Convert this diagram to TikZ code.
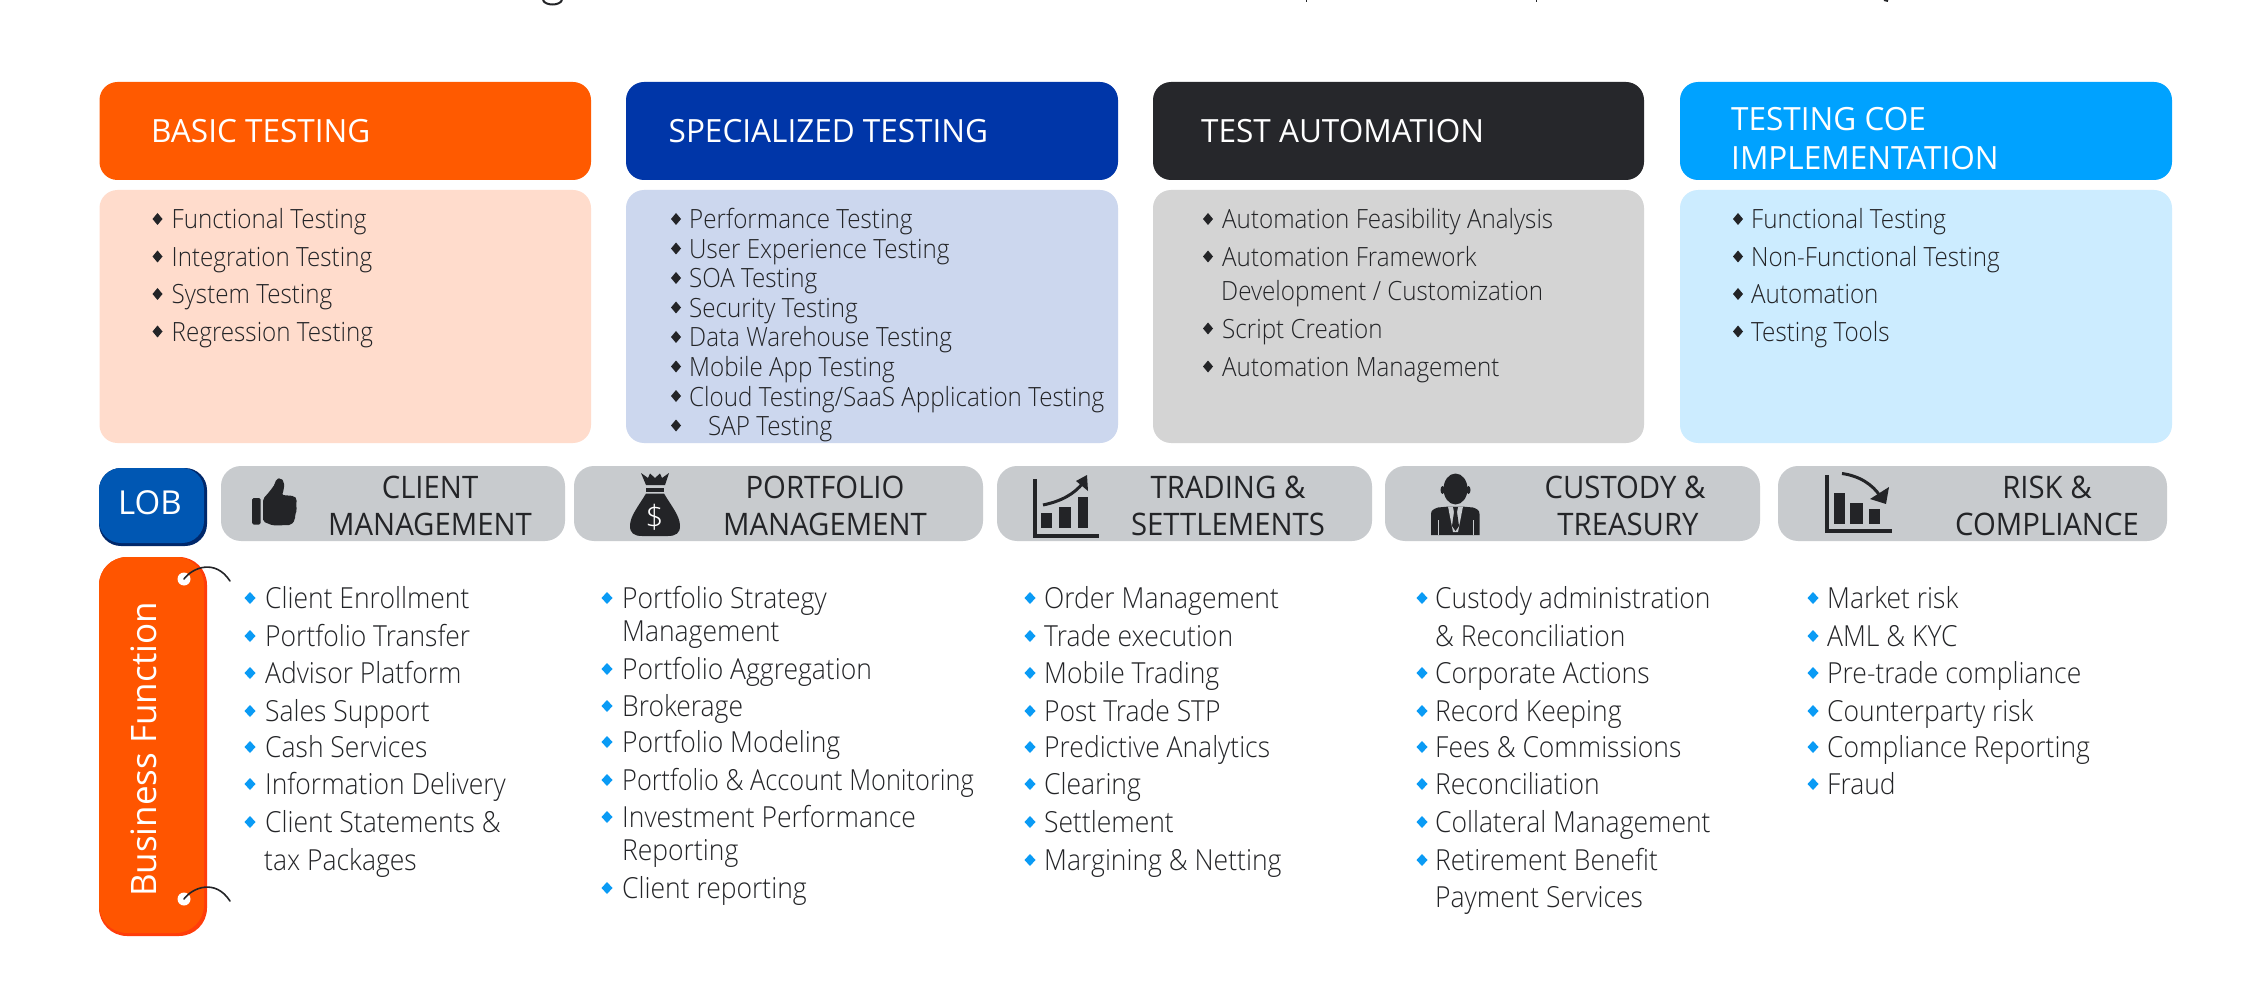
\documentclass[tikz,border=0pt]{standalone}
\usepackage{fontspec}
\setmainfont{Open Sans}[UprightFont=* Light]
\newfontfamily\lightnarrow{Open Sans}[UprightFont=* Light,FakeStretch=0.913]
\newfontfamily\regfont{Open Sans}
\newfontfamily\headfont{Open Sans}[FakeStretch=0.985]
\newfontfamily\regnarrow{Open Sans}[FakeStretch=0.945]
\definecolor{cOrange}{HTML}{FF5A00}
\definecolor{cBlue}{HTML}{0036A8}
\definecolor{cDark}{HTML}{26272B}
\definecolor{cCyan}{HTML}{00A2FF}
\definecolor{bOrange}{HTML}{FFDCCC}
\definecolor{bBlue}{HTML}{CCD7EE}
\definecolor{bDark}{HTML}{D4D4D4}
\definecolor{bCyan}{HTML}{CCECFF}
\definecolor{cGrey}{HTML}{C8CBCE}
\definecolor{cLob}{HTML}{0057B3}
\definecolor{cLobS}{HTML}{00286B}
\definecolor{cBf}{HTML}{FF5500}
\definecolor{cBfS}{HTML}{FF3D0A}
\definecolor{cInk}{HTML}{232427}
\definecolor{cDot}{HTML}{0A9BF5}
\tikzset{
  headbox/.style={rounded corners=18pt},
  headtxt/.style={text=white,font=\headfont\fontsize{32}{32}\selectfont,anchor=base west,inner sep=0pt,yshift=-12.5pt},
  bodytxt/.style={text=cInk,font=\lightnarrow\fontsize{26.5}{26.5}\selectfont,anchor=base west,inner sep=0pt,yshift=-10pt},
  listtxt/.style={text=cInk,font=\lightnarrow\fontsize{29}{29}\selectfont,anchor=base west,inner sep=0pt,yshift=-10pt},
  lobtxt/.style={text=cInk,font=\regnarrow\fontsize{31}{31}\selectfont,anchor=base,inner sep=0pt,yshift=-11pt},
  icon/.style={fill=cInk,draw=none},
  hookline/.style={draw=cInk,line width=1.6pt,line cap=round}
}
% small diamonds
\newcommand{\dk}[2]{\fill[cInk] (#1-5,#2) -- (#1,#2-6) -- (#1+5,#2) -- (#1,#2+6) -- cycle;}
\newcommand{\bl}[2]{\fill[cDot] (#1-5.5,#2) -- (#1,#2-6) -- (#1+5.5,#2) -- (#1,#2+6) -- cycle;}
% bullet list items: name, bullet x, text x, y, text
\newcommand{\bit}[5]{\dk{#2}{#4}\node[bodytxt] (#1) at (#3,#4) {#5};}
\newcommand{\bcont}[4]{\node[bodytxt] (#1) at (#2,#3) {#4};}
\newcommand{\lit}[5]{\bl{#2}{#4}\node[listtxt] (#1) at (#3,#4) {#5};}
\newcommand{\lcont}[4]{\node[listtxt] (#1) at (#2,#3) {#4};}
\begin{document}
\begin{tikzpicture}[x=1pt,y=-1pt]
\useasboundingbox (0,0) rectangle (2260,984);
\fill[white] (0,0) rectangle (2260,984);
% clipped remnants at the top edge
\draw[cInk,line width=2pt] (543,0) .. controls (545,6) and (560,6) .. (562,0);
\draw[cInk,line width=1pt] (1306,0) -- (1306,2);
\draw[cInk,line width=1pt] (1536,0) -- (1536,2);
\draw[cInk,line width=2pt] (1884,0) -- (1888,1);
% headers
\fill[cOrange,headbox] (99.5,82) rectangle (591,180);
\fill[cBlue,headbox] (626,82) rectangle (1118,180);
\fill[cDark,headbox] (1153,82) rectangle (1644,180);
\fill[cCyan,headbox] (1680,82) rectangle (2172,180);
\fill[bOrange,headbox] (99.5,190) rectangle (591,443);
\fill[bBlue,headbox] (626,190) rectangle (1118,443);
\fill[bDark,headbox] (1153,190) rectangle (1644,443);
\fill[bCyan,headbox] (1680,190) rectangle (2172,443);
\node[headtxt] (h1) at (151,130) {BASIC TESTING};
\node[headtxt] (h2) at (668.5,130) {SPECIALIZED TESTING};
\node[headtxt] (h3) at (1201,130) {TEST AUTOMATION};
\node[headtxt] (h4a) at (1731,118) {TESTING COE};
\node[headtxt] (h4b) at (1731,157) {IMPLEMENTATION};
% bodies
\bit{a1}{157.5}{171.5}{219}{Functional Testing}
\bit{a2}{157.5}{171.5}{256.5}{Integration Testing}
\bit{a3}{157.5}{171.5}{294}{System Testing}
\bit{a4}{157.5}{171.5}{331.5}{Regression Testing}
\bit{b1}{676}{689}{219}{Performance Testing}
\bit{b2}{676}{689}{248.5}{User Experience Testing}
\bit{b3}{676}{689}{278}{SOA Testing}
\bit{b4}{676}{689}{307.5}{Security Testing}
\bit{b5}{676}{689}{337}{Data Warehouse Testing}
\bit{b6}{676}{689}{366.5}{Mobile App Testing}
\bit{b7}{676}{689}{396}{Cloud Testing/SaaS Application Testing}
\bit{b8}{676}{708}{425.5}{SAP Testing}
\bit{c1}{1208}{1222}{219}{Automation Feasibility Analysis}
\bit{c2}{1208}{1222}{256.5}{Automation Framework}
\bcont{c2b}{1221}{290.5}{Development / Customization}
\bit{c3}{1208}{1222}{328.5}{Script Creation}
\bit{c4}{1208}{1222}{366.5}{Automation Management}
\bit{d1}{1738}{1751}{219}{Functional Testing}
\bit{d2}{1738}{1751}{256.5}{Non-Functional Testing}
\bit{d3}{1738}{1751}{294}{Automation}
\bit{d4}{1738}{1751}{331.5}{Testing Tools}
% LOB row
\fill[cLobS,rounded corners=22pt] (99,468) rectangle (207,546);
\fill[cLob,rounded corners=22pt] (99,468) rectangle (204,543);
\node[text=white,font=\regfont\fontsize{33}{33}\selectfont,inner sep=0pt] (lob) at (150,503) {LOB};
\fill[cGrey,rounded corners=20pt] (221,466) rectangle (565,541);
\fill[cGrey,rounded corners=20pt] (574,466) rectangle (983,541);
\fill[cGrey,rounded corners=20pt] (997,466) rectangle (1372,541);
\fill[cGrey,rounded corners=20pt] (1385,466) rectangle (1760,541);
\fill[cGrey,rounded corners=20pt] (1778,466) rectangle (2167,541);
\node[lobtxt] (l1a) at (430,487) {CLIENT};
\node[lobtxt] (l1b) at (430,524) {MANAGEMENT};
\node[lobtxt] (l2a) at (825,487) {PORTFOLIO};
\node[lobtxt] (l2b) at (825,524) {MANAGEMENT};
\node[lobtxt] (l3a) at (1228,487) {TRADING \&};
\node[lobtxt] (l3b) at (1228,524) {SETTLEMENTS};
\node[lobtxt] (l4a) at (1625,487) {CUSTODY \&};
\node[lobtxt] (l4b) at (1628,524) {TREASURY};
\node[lobtxt] (l5a) at (2047,487) {RISK \&};
\node[lobtxt] (l5b) at (2047,524) {COMPLIANCE};
% thumb icon
\fill[icon,rounded corners=1.5pt] (252,498) rectangle (260.5,524.5);
\fill[icon,rounded corners=2pt] (263,499) -- (270,491) -- (275,484) -- (276,479) -- (281,478) -- (284,482) -- (284,489) -- (282,495) -- (294,496) -- (297,499) -- (296,505) -- (297,510) -- (295,515) -- (295,520) -- (291,525) -- (273,525.5) -- (263,521.5) -- cycle;
% money bag icon
\fill[icon] (641,473) -- (648,478) -- (650,473.5) -- (655,478) -- (660,473.5) -- (662,478) -- (669,473) -- (665,485) -- (646,485) -- cycle;
\fill[icon] (646,487.5) rectangle (664,491.5);
\fill[icon] (646,493.5) -- (664,493.5) .. controls (672,507) and (680,516) .. (680,526) .. controls (680,533) and (676,536) .. (668,536) -- (642,536) .. controls (634,536) and (630,533) .. (630,526) .. controls (630,516) and (638,507) .. (646,493.5) -- cycle;
\node[text=white,font=\fontsize{32}{32}\selectfont,inner sep=0pt] (dollar) at (654.5,517) {\$};
% rising chart icon
\fill[icon] (1033,479) rectangle (1037,538);
\fill[icon] (1033,533.5) rectangle (1099,538);
\fill[icon] (1041,513) rectangle (1052,528);
\fill[icon] (1059,507) rectangle (1071,528);
\fill[icon] (1078,497) rectangle (1088,528);
\draw[cInk,line width=3pt] (1043,505) .. controls (1062,501) and (1074,494) .. (1083,483);
\fill[icon] (1087,475) -- (1088,491) -- (1076,481) -- cycle;
% person icon
\fill[icon] (1455.5,489) ellipse (12 and 15.5);
\fill[icon] (1442.5,490) ellipse (2 and 4);
\fill[icon] (1468.5,490) ellipse (2 and 4);
\fill[icon] (1431,535) -- (1431,514) .. controls (1431,510) and (1434,509) .. (1438,507.5) -- (1449,506.5) -- (1462,506.5) -- (1473,507.5) .. controls (1477,509) and (1479.5,510) .. (1479.5,514) -- (1479.5,535) -- cycle;
\fill[cGrey] (1448,506.5) -- (1463,506.5) -- (1458,532) -- (1453,532) -- cycle;
\fill[icon] (1453,507) -- (1458,507) -- (1457,512) -- (1459,526) -- (1455.5,531) -- (1452,526) -- (1454,512) -- cycle;
\draw[cGrey,line width=.8pt] (1438,520) -- (1438,535) (1473,520) -- (1473,535);
% falling chart icon
\fill[icon] (1825,475) rectangle (1829,533);
\fill[icon] (1825,529) rectangle (1892,533);
\fill[icon] (1834,493) rectangle (1845,524);
\fill[icon] (1850,503) rectangle (1863,524);
\fill[icon] (1869,509) rectangle (1880,524);
\draw[cInk,line width=3pt] (1842,473.5) .. controls (1860,476) and (1873,485) .. (1880,496);
\fill[icon] (1886,504) -- (1870,499) -- (1889,487) -- cycle;
% business function tag
\fill[cBfS,rounded corners=28pt] (99,557) rectangle (207,936);
\fill[cBf,rounded corners=28pt] (99,557) rectangle (204,933);
\node[text=white,font=\regfont\fontsize{35}{35}\selectfont,inner sep=0pt,rotate=90] (bf) at (144,749.5) {Business Function};
\fill[white] (184,579) circle (6.5);
\fill[white] (184,899) circle (6.5);
\draw[hookline] (184,579) .. controls (192,568) and (215,558) .. (230,581);
\draw[hookline] (184,899) .. controls (192,888) and (215,878) .. (230,901);
% lists
\lit{e1}{250}{265}{598}{Client Enrollment}
\lit{e2}{250}{265}{636}{Portfolio Transfer}
\lit{e3}{250}{265}{673}{Advisor Platform}
\lit{e4}{250}{265}{711}{Sales Support}
\lit{e5}{250}{265}{747}{Cash Services}
\lit{e6}{250}{265}{784}{Information Delivery}
\lit{e7}{250}{265}{822}{Client Statements \&}
\lcont{e7b}{264}{860}{tax Packages}
\lit{f1}{607}{622}{598}{Portfolio Strategy}
\lcont{f1b}{622}{631}{Management}
\lit{f2}{607}{622}{669}{Portfolio Aggregation}
\lit{f3}{607}{622}{706}{Brokerage}
\lit{f4}{607}{622}{742}{Portfolio Modeling}
\lit{f5}{607}{622}{780}{\scalebox{0.957}[1]{Portfolio \& Account Monitoring}}
\lit{f6}{607}{622}{817}{Investment Performance}
\lcont{f6b}{622}{850}{Reporting}
\lit{f7}{607}{622}{888}{Client reporting}
\lit{g1}{1030}{1044}{598}{Order Management}
\lit{g2}{1030}{1044}{636}{Trade execution}
\lit{g3}{1030}{1044}{673}{Mobile Trading}
\lit{g4}{1030}{1044}{711}{Post Trade STP}
\lit{g5}{1030}{1044}{747}{Predictive Analytics}
\lit{g6}{1030}{1044}{784}{Clearing}
\lit{g7}{1030}{1044}{822}{Settlement}
\lit{g8}{1030}{1044}{860}{Margining \& Netting}
\lit{i1}{1422}{1435}{598}{Custody administration}
\lcont{i1b}{1435}{636}{\& Reconciliation}
\lit{i2}{1422}{1435}{673}{Corporate Actions}
\lit{i3}{1422}{1435}{711}{Record Keeping}
\lit{i4}{1422}{1435}{747}{Fees \& Commissions}
\lit{i5}{1422}{1435}{784}{Reconciliation}
\lit{i6}{1422}{1435}{822}{Collateral Management}
\lit{i7}{1422}{1435}{860}{Retirement Benefit}
\lcont{i7b}{1435}{897}{Payment Services}
\lit{j1}{1813}{1827}{598}{Market risk}
\lit{j2}{1813}{1827}{636}{AML \& KYC}
\lit{j3}{1813}{1827}{673}{Pre-trade compliance}
\lit{j4}{1813}{1827}{711}{Counterparty risk}
\lit{j5}{1813}{1827}{747}{Compliance Reporting}
\lit{j6}{1813}{1827}{784}{Fraud}
\end{tikzpicture}
\end{document}
